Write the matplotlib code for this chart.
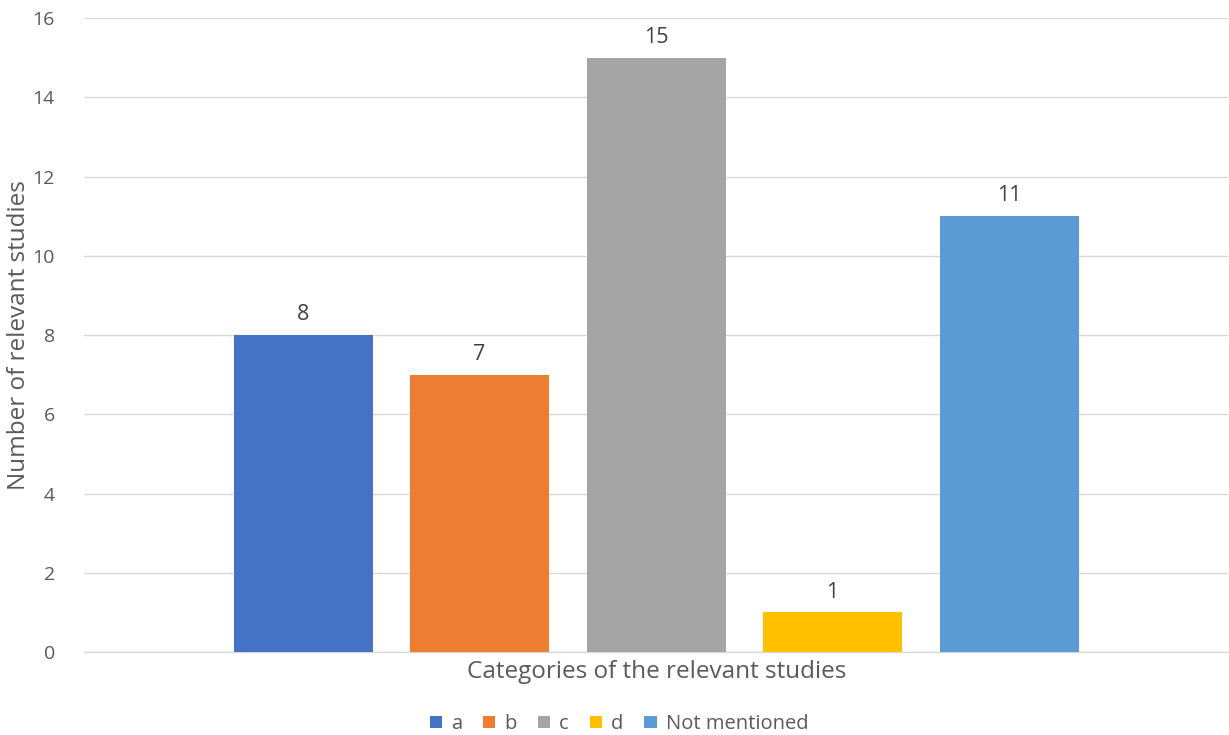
import matplotlib
matplotlib.use("Agg")
import matplotlib.pyplot as plt
from matplotlib.patches import Patch

series = ["a", "b", "c", "d", "Not mentioned"]
values = [8, 7, 15, 1, 11]
colors = ["#4472C4", "#ED7D31", "#A5A5A5", "#FFC000", "#5B9BD5"]
yticks = [0, 2, 4, 6, 8, 10, 12, 14, 16]
xlabel = "Categories of the relevant studies"
ylabel = "Number of relevant studies"

plt.rcParams['font.family'] = ['Open Sans', 'DejaVu Sans']
txt = "#595959"

W, H = 1229, 735
fig = plt.figure(figsize=(W/100, H/100), dpi=100)
ax = fig.add_axes([84/W, 1-652/H, (1228-84)/W, (652-18)/H])

spacing = 176.5
plot_w = 1228 - 84
half = plot_w / spacing / 2
xs = list(range(len(series)))
bars = ax.bar(xs, values, width=139/spacing, color=colors, zorder=3)
ax.set_xlim(2 - half, 2 + half)
ax.set_ylim(0, 16)
ax.set_yticks(yticks)
ax.set_yticklabels([str(t) for t in yticks], fontsize=14, color=txt)
ax.set_xticks([])
ax.tick_params(axis='y', length=0, pad=21)
ax.grid(axis='y', color='#D9D9D9', linewidth=1, zorder=0)
for s in ['top', 'right', 'left']:
    ax.spines[s].set_visible(False)
ax.spines['bottom'].set_color('#D9D9D9')
ax.spines['bottom'].set_linewidth(1)

for x, v in zip(xs, values):
    ax.annotate(str(v), (x, v), xytext=(0, 7), textcoords='offset points',
                ha='center', va='bottom', fontsize=15.5, color='#404040')

fig.text(657/W, 1-672/H, xlabel, ha='center', va='center', fontsize=17.5, color=txt)
fig.text(19/W, 1-335/H, ylabel, ha='center', va='center', rotation=90, fontsize=17.5, color=txt)

handles = [Patch(facecolor=c, label=s) for c, s in zip(colors, series)]
fig.legend(handles=handles, loc='center', bbox_to_anchor=(619/W, 1-724/H), ncol=5,
           frameon=False, fontsize=14.5, labelcolor=txt, handlelength=0.6,
           handleheight=0.6, handletextpad=0.45, columnspacing=1.05)

fig.savefig("out.png", dpi=100)
